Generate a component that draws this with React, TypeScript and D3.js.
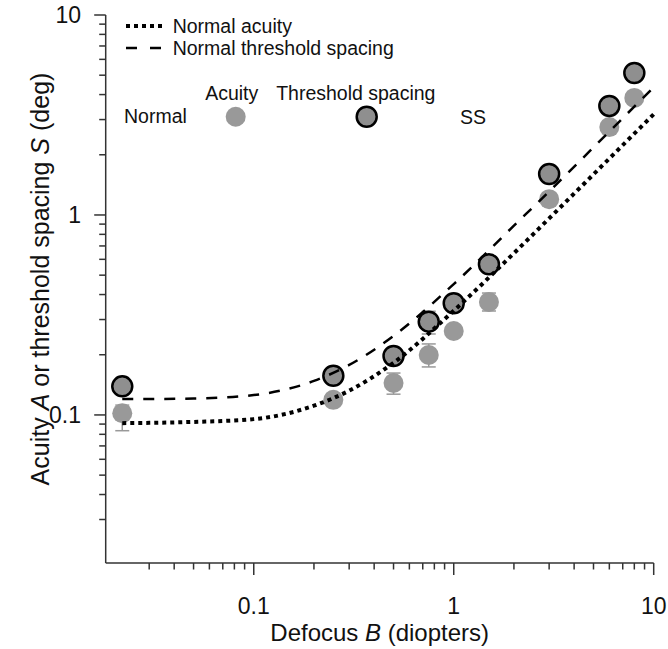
import React from "react";
import * as d3 from "d3";

// Data
const DEFOCUS = [0.022, 0.25, 0.5, 0.75, 1, 1.5, 3, 6, 8];
const ACUITY = [0.102, 0.119, 0.1445, 0.1995, 0.263, 0.367, 1.2, 2.75, 3.85];
const ACUITY_LO = [0.0834, 0.112, 0.127, 0.1738, 0.252, 0.331, 1.14, 2.62, 3.68];
const ACUITY_HI = [0.112, 0.126, 0.162, 0.2265, 0.275, 0.407, 1.26, 2.88, 4.02];
const SPACING = [0.139, 0.157, 0.197, 0.2927, 0.3617, 0.5666, 1.603, 3.51, 5.13];
const SPACING_LO = [0.139, 0.157, 0.197, 0.254, 0.3617, 0.5666, 1.603, 3.51, 5.13];
const SPACING_HI = [0.139, 0.157, 0.197, 0.33, 0.3617, 0.5666, 1.603, 3.51, 5.13];

// Normal curves, read at several defocus values
const CURVE_B = [0.022, 0.05, 0.1, 0.2, 0.3, 0.5, 1, 2, 3, 5, 10];
const NORMAL_ACUITY = [0.091, 0.0923, 0.0953, 0.1113, 0.1322, 0.1823, 0.332, 0.644, 0.961, 1.597, 3.19];
const NORMAL_SPACING = [0.12, 0.1208, 0.1257, 0.148, 0.1778, 0.2484, 0.451, 0.884, 1.31, 2.178, 4.35];

const X_TICKS = ["0.1", "1", "10"];
const Y_TICKS = ["0.1", "1", "10"];
const DOMAIN: [number, number] = [0.01818, 10];

const FONT = "'Liberation Sans', Arial, sans-serif";
const GREY = "#999999";
const DARK_GREY = "#8f8f8f";

export default function App() {
  const W = 668;
  const H = 649;
  const left = 105.7;
  const right = 653.7;
  const top = 15;
  const bottom = 563;

  const x = d3.scaleLog().domain(DOMAIN).range([left, right]);
  const y = d3.scaleLog().domain(DOMAIN).range([bottom, top]);

  const minorTicks = x.ticks().filter((t) => t >= 0.029);
  const majorVals = X_TICKS.map(Number);
  const isMajor = (t: number) => majorVals.some((m) => Math.abs(m - t) / m < 1e-6);

  const line = d3
    .line<number>()
    .x((_, i) => x(CURVE_B[i]))
    .y((d) => y(d))
    .curve(d3.curveMonotoneX);

  const capW = 7;
  const axisColor = "#333";

  return (
    <svg
      width={W}
      height={H}
      style={{ position: "absolute", left: 0, top: 0, background: "#fff" }}
      fontFamily={FONT}
    >
      {/* axes */}
      <line x1={left} y1={top} x2={left} y2={bottom} stroke={axisColor} strokeWidth={1.5} />
      <line x1={left} y1={bottom} x2={right} y2={bottom} stroke={axisColor} strokeWidth={1.5} />
      {minorTicks.map((t, i) => (
        <g key={"xt" + i}>
          <line
            x1={x(t)}
            x2={x(t)}
            y1={bottom}
            y2={bottom + (isMajor(t) ? 12 : 6.5)}
            stroke={axisColor}
            strokeWidth={1.5}
          />
          <line
            y1={y(t)}
            y2={y(t)}
            x1={left}
            x2={left - (isMajor(t) ? 11.5 : 6.5)}
            stroke={axisColor}
            strokeWidth={1.5}
          />
        </g>
      ))}
      {X_TICKS.map((s) => (
        <text key={"xl" + s} x={x(Number(s))} y={614} fontSize={23} textAnchor="middle" fill="#111">
          {s}
        </text>
      ))}
      {Y_TICKS.map((s) => (
        <text key={"yl" + s} x={81} y={y(Number(s)) + 8} fontSize={23} textAnchor="end" fill="#111">
          {s}
        </text>
      ))}
      <text x={(left + right) / 2} y={641} fontSize={24} textAnchor="middle" fill="#111">
        Defocus <tspan fontStyle="italic">B</tspan> (diopters)
      </text>
      <text
        transform={`translate(49,279) rotate(-90)`}
        fontSize={25}
        textAnchor="middle"
        fill="#111"
      >
        Acuity <tspan fontStyle="italic">A</tspan> or threshold spacing{" "}
        <tspan fontStyle="italic">S</tspan> (deg)
      </text>

      {/* error bars */}
      {DEFOCUS.map((b, i) => (
        <g key={"eb" + i} stroke={GREY} strokeWidth={1.5}>
          <line x1={x(b)} x2={x(b)} y1={y(ACUITY_LO[i])} y2={y(ACUITY_HI[i])} />
          <line x1={x(b) - capW} x2={x(b) + capW} y1={y(ACUITY_LO[i])} y2={y(ACUITY_LO[i])} />
          <line x1={x(b) - capW} x2={x(b) + capW} y1={y(ACUITY_HI[i])} y2={y(ACUITY_HI[i])} />
          {SPACING_LO[i] !== SPACING_HI[i] && (
            <>
              <line x1={x(b)} x2={x(b)} y1={y(SPACING_LO[i])} y2={y(SPACING_HI[i])} />
              <line x1={x(b) - capW} x2={x(b) + capW} y1={y(SPACING_LO[i])} y2={y(SPACING_LO[i])} />
              <line x1={x(b) - capW} x2={x(b) + capW} y1={y(SPACING_HI[i])} y2={y(SPACING_HI[i])} />
            </>
          )}
        </g>
      ))}

      {/* points */}
      {DEFOCUS.map((b, i) => (
        <circle key={"a" + i} cx={x(b)} cy={y(ACUITY[i])} r={10} fill={GREY} />
      ))}
      {DEFOCUS.map((b, i) => (
        <circle
          key={"s" + i}
          cx={x(b)}
          cy={y(SPACING[i])}
          r={10}
          fill={DARK_GREY}
          stroke="#000"
          strokeWidth={2.5}
        />
      ))}

      {/* normal curves */}
      <path d={line(NORMAL_ACUITY) || ""} fill="none" stroke="#000" strokeWidth={4} strokeDasharray="4,4" />
      <path d={line(NORMAL_SPACING) || ""} fill="none" stroke="#000" strokeWidth={2.5} strokeDasharray="11,10" />

      {/* legend */}
      <line x1={126} x2={162} y1={26} y2={26} stroke="#000" strokeWidth={4} strokeDasharray="4,4" />
      <text x={172.7} y={33} fontSize={19.5} fill="#111">Normal acuity</text>
      <line x1={126} x2={162} y1={48} y2={48} stroke="#000" strokeWidth={2.5} strokeDasharray="11,13" />
      <text x={172.7} y={55} fontSize={19.5} fill="#111">Normal threshold spacing</text>

      <text x={231.7} y={100} fontSize={19.5} textAnchor="middle" fill="#111">Acuity</text>
      <text x={355.8} y={100} fontSize={19.5} textAnchor="middle" fill="#111">Threshold spacing</text>
      <text x={124} y={123} fontSize={19.5} fill="#111">Normal</text>
      <circle cx={235.7} cy={116.7} r={10} fill={GREY} />
      <circle cx={366.7} cy={116.7} r={10} fill={DARK_GREY} stroke="#000" strokeWidth={2.5} />
      <text x={460} y={124} fontSize={19.5} fill="#111">SS</text>
    </svg>
  );
}
